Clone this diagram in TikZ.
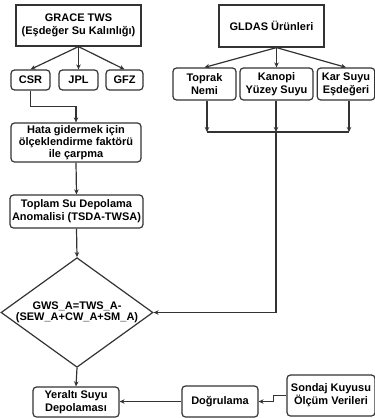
\documentclass[tikz,border=0pt]{standalone}
\usepackage{fontspec}
\setmainfont{Liberation Sans}
\usetikzlibrary{arrows.meta,shapes.geometric,calc}
\definecolor{ln}{HTML}{333333}
\tikzset{
  base/.style={draw=ln, line width=1.2pt, align=center, inner sep=1pt,
    font=\fontsize{11}{12.8}\selectfont\bfseries, text=black},
  sqbox/.style={base},
  rbox/.style={base, rounded corners=3.5pt},
  arr/.style={draw=ln, line width=1.2pt, -{Stealth[length=5pt,width=4.5pt]}},
  ln/.style={draw=ln, line width=1.2pt}
}
\begin{document}
\begin{tikzpicture}[x=1pt,y=-1pt]
\useasboundingbox (0,0) rectangle (375,418);
% left column
\node[sqbox, minimum width=125pt, minimum height=41pt] (grace) at (78.5,25.5) {GRACE TWS\\(Eşdeğer Su Kalınlığı)};
\node[rbox, minimum width=39pt, minimum height=20pt] (csr) at (30.5,80) {CSR};
\node[rbox, minimum width=39pt, minimum height=20pt] (jpl) at (78.5,80) {JPL};
\node[rbox, minimum width=37pt, minimum height=20pt] (gfz) at (124.5,80) {GFZ};
\node[rbox, minimum width=130pt, minimum height=39pt, font=\fontsize{11}{12}\selectfont\bfseries] (hata) at (76,142.5) {Hata gidermek için\\ölçeklendirme faktörü\\ile çarpma};
\node[rbox, minimum width=133pt, minimum height=33pt] (toplam) at (76.5,211.5) {Toplam Su Depolama\\Anomalisi (TSDA-TWSA)};
\node[base, diamond, aspect=1.386, inner sep=0pt, minimum width=140pt, minimum height=101pt, font=\fontsize{11}{11.5}\selectfont\bfseries] (dia) at (77,312.5) {GWS\_A=TWS\_A-\\(SEW\_A+CW\_A+SM\_A)};
\node[rbox, minimum width=86pt, minimum height=30pt] (yer) at (76,402) {Yeraltı Suyu\\Depolaması};
% right column
\node[sqbox, minimum width=105pt, minimum height=42pt] (gldas) at (271.5,26) {GLDAS Ürünleri};
\node[rbox, minimum width=63pt, minimum height=32pt] (toprak) at (204.5,84) {Toprak\\Nemi};
\node[rbox, minimum width=73pt, minimum height=32pt] (kanopi) at (276.5,84) {Kanopi\\Yüzey Suyu};
\node[rbox, minimum width=57.5pt, minimum height=32pt] (kar) at (346,84) {Kar Suyu\\Eşdeğeri};
\node[rbox, minimum width=76pt, minimum height=31pt] (dog) at (220,401.5) {Doğrulama};
\node[rbox, minimum width=88pt, minimum height=41pt] (son) at (331,395.5) {Sondaj Kuyusu\\Ölçüm Verileri};
% connectors left
\draw[arr] (grace.south) -- (csr.north);
\draw[arr] (grace.south) -- (jpl.north);
\draw[arr] (grace.south) -- (gfz.north);
\draw[arr] (csr.south) -- ++(0,16) -| (hata.north);
\draw[arr] (hata.south) -- (toplam.north);
\draw[arr] (toplam.south) -- (dia.north);
\draw[arr] (dia.south) -- (yer.north);
% connectors right
\coordinate (gs) at (gldas.south -| kanopi.north);
\draw[arr] (gs) -- (toprak.north);
\draw[arr] (gs) -- (kanopi.north);
\draw[arr] (gs) -- (kar.north);
\coordinate (bl) at (207,132);
\coordinate (bm) at (276,132);
\coordinate (br) at (349,132);
\draw[arr] (toprak.south -| bl) -- (bl);
\draw[arr] (kanopi.south -| bm) -- (bm);
\draw[arr] (kar.south -| br) -- (br);
\draw[ln] (bl) -- (br);
\draw[arr] (bm) |- (dia.east);
\draw[arr] (son.west) -- ++(-13,0) |- (dog.east);
\draw[arr] (dog.west) -- (dog.west -| yer.east);
\end{tikzpicture}
\end{document}
